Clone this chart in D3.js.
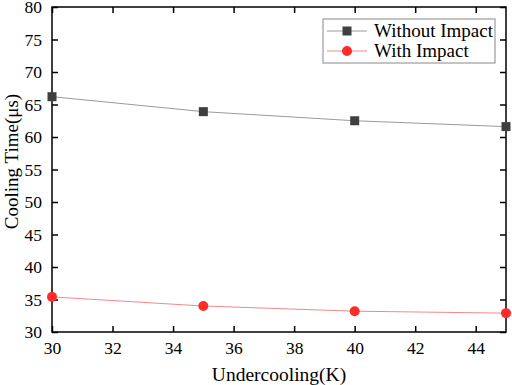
<!DOCTYPE html>
<html>
<head>
<meta charset="utf-8">
<script src="https://cdn.jsdelivr.net/npm/d3@7"></script>
<style>
  body { margin: 0; background: #fff; }
  svg { display: block; }
</style>
</head>
<body>
<svg id="chart" width="512" height="385"></svg>
<script>
// data
var undercooling = [30, 35, 40, 45];
var withoutImpact = [66.2, 63.9, 62.5, 61.6];
var withImpact = [35.4, 34.0, 33.2, 32.9];
var xTicks = [30, 32, 34, 36, 38, 40, 42, 44];
var yTicks = [30, 35, 40, 45, 50, 55, 60, 65, 70, 75, 80];

var sFont = "'Liberation Serif', 'DejaVu Serif', serif";
var margin = { left: 52, top: 7, right: 6, bottom: 53 };
var W = 512, H = 385;
var iWidth = W - margin.left - margin.right;
var iHeight = H - margin.top - margin.bottom;

var svg = d3.select("#chart");
var chart = svg.append("g")
    .attr("transform", `translate(${margin.left}, ${margin.top})`);

var xScale = d3.scaleLinear().domain([30, 45]).range([0, iWidth]);
var yScale = d3.scaleLinear().domain([30, 80]).range([iHeight, 0]);

// frame
chart.append("rect")
    .attr("width", iWidth).attr("height", iHeight)
    .attr("fill", "none").attr("stroke", "#000").attr("stroke-width", 1.5);

// axes, ticks pointing inward
function styleAxis(g) {
    g.select(".domain").remove();
    g.selectAll(".tick line").attr("stroke", "#000").attr("stroke-width", 1.5);
    g.selectAll("text").style("font-family", sFont).style("font-size", "17.5px").attr("fill", "#000");
}

chart.append("g")
    .attr("transform", `translate(0, ${iHeight})`)
    .call(d3.axisBottom(xScale).tickValues(xTicks).tickSize(-6).tickPadding(10))
    .call(styleAxis);

chart.append("g")
    .call(d3.axisTop(xScale).tickValues(xTicks).tickSize(-6).tickFormat(""))
    .call(styleAxis);

chart.append("g")
    .call(d3.axisLeft(yScale).tickValues(yTicks).tickSize(-6).tickPadding(10))
    .call(styleAxis);

chart.append("g")
    .attr("transform", `translate(${iWidth}, 0)`)
    .call(d3.axisRight(yScale).tickValues(yTicks).tickSize(-6).tickFormat(""))
    .call(styleAxis);

// axis titles
svg.append("text")
    .attr("x", margin.left + iWidth / 2).attr("y", 381)
    .attr("text-anchor", "middle")
    .style("font-family", sFont).style("font-size", "19.5px")
    .text("Undercooling(K)");

svg.append("text")
    .attr("transform", `translate(18, ${margin.top + iHeight / 2 - 8}) rotate(-90)`)
    .attr("text-anchor", "middle")
    .style("font-family", sFont).style("font-size", "19px")
    .text("Cooling Time(μs)");

// series
var series = [
    { name: "Without Impact", values: withoutImpact, line: "#9a9a9a", fill: "#3f3f3f", shape: "square" },
    { name: "With Impact", values: withImpact, line: "#f08a8a", fill: "#ff2b2b", shape: "circle" }
];

var line = d3.line()
    .x((d, i) => xScale(undercooling[i]))
    .y(d => yScale(d));

function drawMarker(g, s, x, y) {
    if (s.shape === "square") {
        g.append("rect").attr("x", x - 4.5).attr("y", y - 4.5)
            .attr("width", 9).attr("height", 9).attr("fill", s.fill);
    } else {
        g.append("circle").attr("cx", x).attr("cy", y).attr("r", 5)
            .attr("fill", s.fill);
    }
}

series.forEach(function(s) {
    chart.append("path")
        .datum(s.values)
        .attr("fill", "none")
        .attr("stroke", s.line)
        .attr("stroke-width", 1)
        .attr("d", line);
    s.values.forEach(function(v, i) {
        drawMarker(chart, s, xScale(undercooling[i]), yScale(v));
    });
});

// legend
var legend = svg.append("g").attr("transform", "translate(323, 19)");
legend.append("rect")
    .attr("width", 172).attr("height", 44)
    .attr("fill", "#fff").attr("stroke", "#888").attr("stroke-width", 1);

series.forEach(function(s, i) {
    var cy = 12 + i * 20;
    legend.append("line")
        .attr("x1", 4).attr("x2", 44).attr("y1", cy).attr("y2", cy)
        .attr("stroke", s.line).attr("stroke-width", 1);
    drawMarker(legend, s, 24, cy);
    legend.append("text")
        .attr("x", 51).attr("y", cy + 6)
        .style("font-family", sFont).style("font-size", "19px")
        .text(s.name);
});
</script>
</body>
</html>
